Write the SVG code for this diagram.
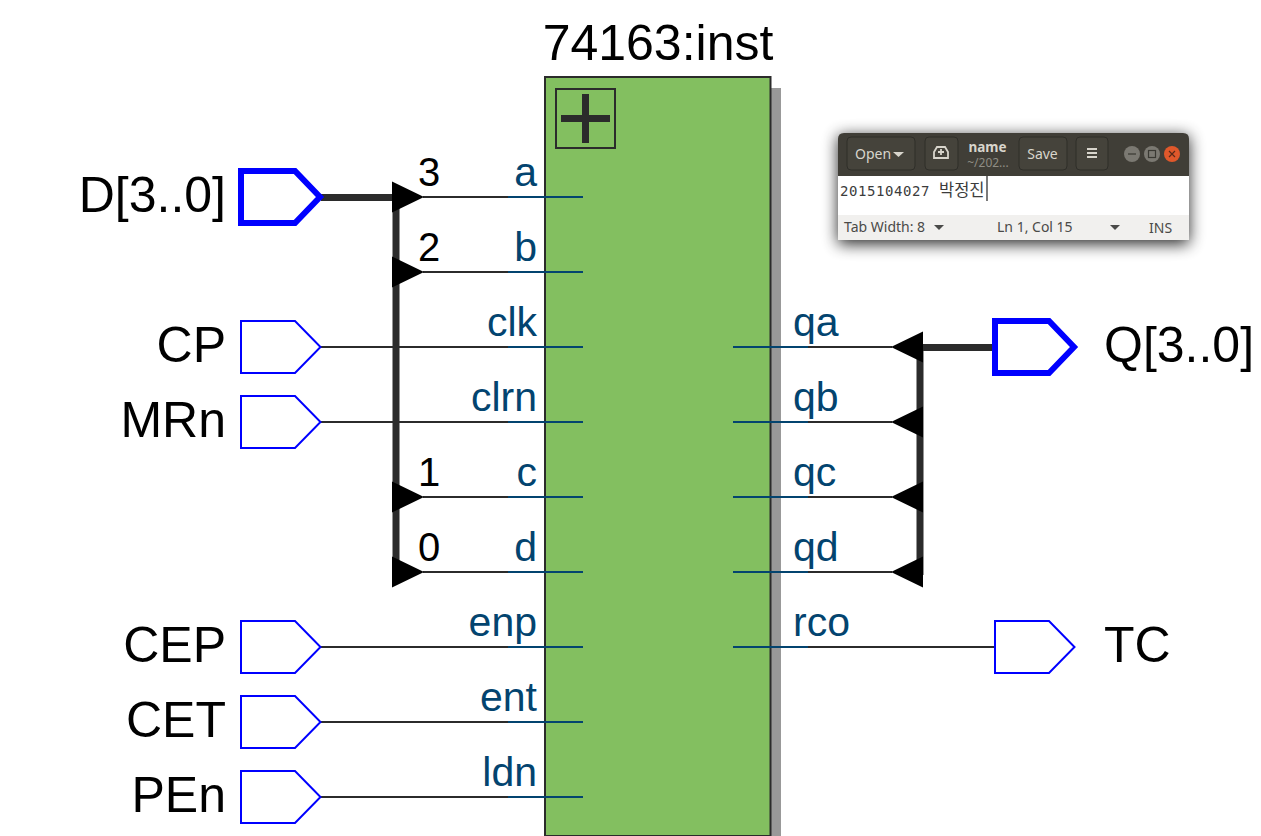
<svg xmlns="http://www.w3.org/2000/svg" width="1261" height="836" viewBox="0 0 1261 836">
<style>
text{font-family:"Liberation Sans",Arial,sans-serif}
.big{font-size:50px;fill:#000}
.end{text-anchor:end}
.num{font-size:40px;fill:#000}
.pin{font-size:41px;fill:#03446f}
.port{fill:#fff;stroke:#0000ff;stroke-width:2;stroke-linejoin:miter}
.bport{fill:#fff;stroke:#0000ff;stroke-width:6;stroke-linejoin:miter}
.wire{stroke:#2b2b2b;stroke-width:2;fill:none}
.pinw{stroke:#03446f;stroke-width:2;fill:none}
.bus{stroke:#2b2b2b;stroke-width:7;fill:none}
.ui{font-family:"Noto Sans",sans-serif;font-size:14px;fill:#d8d5cc}
.st{font-family:"Noto Sans",sans-serif;font-size:14px;fill:#4a4a48}
.btn{fill:#45433b;stroke:#2f2e29;stroke-width:1}
</style>
<defs>
<filter id="sh" x="-15%" y="-30%" width="130%" height="170%"><feGaussianBlur stdDeviation="8"/></filter>
<path id="tl" d="M392 -15.500L424 0L392 15.500Z" fill="#000"/>
<path id="tr" d="M923 -15.500L891 0L923 15.500Z" fill="#000"/>
</defs>
<rect width="1261" height="836" fill="#fff"/>

<g id="block">
<rect x="770" y="88" width="11" height="748" fill="#999"/>
<rect x="545" y="77" width="225.500" height="759" fill="#83bf60" stroke="#2b2b2b" stroke-width="2"/>
<rect x="556" y="89" width="59" height="59" fill="none" stroke="#2b2b2b" stroke-width="2"/>
<path d="M561 118.500H610M585.500 94V143" stroke="#2b2b2b" stroke-width="7" fill="none"/>
<text x="658" y="60" class="big" text-anchor="middle">74163:inst</text>
</g>

<g id="connectors">
<path class="wire" d="M423 197H508M423 272H508M321 347H508M321 422H508M423 497H508M423 572H508M321 647H508M321 722H508M321 797H508"/>
<path class="pinw" d="M508 197H583M508 272H583M508 347H583M508 422H583M508 497H583M508 572H583M508 647H583M508 722H583M508 797H583"/>
<path class="wire" d="M808 347H892M808 422H892M808 497H892M808 572H892M808 647H995"/>
<path class="pinw" d="M733 347H808M733 422H808M733 497H808M733 572H808M733 647H808"/>
<path class="bus" d="M321 197.500H394M396 197V575"/>
<path class="bus" d="M995 347.500H921M920 347V575"/>
<use href="#tl" y="197"/><use href="#tl" y="272"/><use href="#tl" y="497"/><use href="#tl" y="572"/>
<use href="#tr" y="347"/><use href="#tr" y="422"/><use href="#tr" y="497"/><use href="#tr" y="572"/>
<text x="418" y="186" class="num">3</text>
<text x="418" y="261" class="num">2</text>
<text x="418" y="486" class="num">1</text>
<text x="418" y="561" class="num">0</text>
</g>

<g id="pins">
<text x="537" y="186" class="pin end">a</text>
<text x="537" y="261" class="pin end">b</text>
<text x="537" y="336" class="pin end">clk</text>
<text x="537" y="411" class="pin end">clrn</text>
<text x="537" y="486" class="pin end">c</text>
<text x="537" y="561" class="pin end">d</text>
<text x="537" y="636" class="pin end">enp</text>
<text x="537" y="711" class="pin end">ent</text>
<text x="537" y="786" class="pin end">ldn</text>
<text x="793" y="336" class="pin">qa</text>
<text x="793" y="411" class="pin">qb</text>
<text x="793" y="486" class="pin">qc</text>
<text x="793" y="561" class="pin">qd</text>
<text x="793" y="636" class="pin">rco</text>
</g>

<g id="port-D"><path class="bport" d="M241 171H295L320 197L295 223H241Z"/><text x="226" y="212" class="big end">D[3..0]</text></g>
<g id="port-CP"><path class="port" d="M241 321H295L320.500 347L295 373H241Z"/><text x="226" y="362" class="big end">CP</text></g>
<g id="port-MRn"><path class="port" d="M241 396H295L320.500 422L295 448H241Z"/><text x="226" y="437" class="big end">MRn</text></g>
<g id="port-CEP"><path class="port" d="M241 621H295L320.500 647L295 673H241Z"/><text x="226" y="662" class="big end">CEP</text></g>
<g id="port-CET"><path class="port" d="M241 696H295L320.500 722L295 748H241Z"/><text x="226" y="737" class="big end">CET</text></g>
<g id="port-PEn"><path class="port" d="M241 771H295L320.500 797L295 823H241Z"/><text x="226" y="812" class="big end">PEn</text></g>
<g id="port-Q"><path class="bport" d="M995 321H1049L1074 347L1049 373H995Z"/><text x="1104" y="362" class="big">Q[3..0]</text></g>
<g id="port-TC"><path class="port" d="M995 621H1049L1074.500 647L1049 673H995Z"/><text x="1104" y="662" class="big">TC</text></g>

<g id="window">
<rect x="838" y="136" width="351" height="108" fill="#000" opacity="0.85" filter="url(#sh)"/>
<path d="M838 176V139Q838 133 844 133H1183Q1189 133 1189 139V176Z" fill="#403e37"/>
<rect x="838" y="176" width="351" height="39" fill="#fff"/>
<rect x="838" y="215" width="351" height="25" fill="#f1f0ee"/>
<rect class="btn" x="847" y="137" width="68" height="33" rx="4"/>
<text x="855" y="159" class="ui">Open</text>
<path d="M893 152H904L898.500 157Z" fill="#d8d5cc"/>
<rect class="btn" x="925" y="137" width="33" height="33" rx="4"/>
<path d="M934 158V152L937 147H945L948 152V158Z M938 152H944M941 149V155" fill="none" stroke="#d8d5cc" stroke-width="1.800"/>
<text x="987.500" y="152" text-anchor="middle" style="font-family:'Noto Sans',sans-serif;font-size:13.500px;font-weight:700;fill:#d8d5cc">name</text>
<text x="988" y="167" text-anchor="middle" style="font-family:'Noto Sans',sans-serif;font-size:12px;fill:#8f8d84">~/202...</text>
<rect class="btn" x="1019" y="137" width="48" height="33" rx="4"/>
<text x="1042.500" y="159" text-anchor="middle" class="ui">Save</text>
<rect class="btn" x="1076" y="137" width="32" height="33" rx="4"/>
<path d="M1087 149H1097M1087 153H1097M1087 157H1097" stroke="#d8d5cc" stroke-width="1.800"/>
<circle cx="1132" cy="154" r="8" fill="#7b7972"/>
<path d="M1128 154H1136" stroke="#3a3933" stroke-width="1.200"/>
<circle cx="1152" cy="154" r="8" fill="#7b7972"/>
<rect x="1148.500" y="150.500" width="7" height="7" fill="none" stroke="#3a3933" stroke-width="1.200"/>
<circle cx="1172" cy="154" r="8" fill="#e0582b"/>
<path d="M1169 151L1175 157M1175 151L1169 157" stroke="#5a2a18" stroke-width="1.200"/>
<text x="840" y="196" style="font-family:'DejaVu Sans Mono',monospace;font-size:14px;letter-spacing:0.570px;fill:#3c3c3c">2015104027</text>
<text x="939" y="195.500" style="font-family:'Noto Sans CJK KR',sans-serif;font-size:16.500px;fill:#3c3c3c">박정진</text>
<path d="M987 176V201" stroke="#222" stroke-width="1.200"/>
<text x="844" y="232" class="st">Tab Width: 8</text>
<path d="M934 225H944L939 230Z" fill="#4a4a48"/>
<text x="997" y="232" class="st">Ln 1, Col 15</text>
<path d="M1110 225H1120L1115 230Z" fill="#4a4a48"/>
<text x="1149" y="233" class="st">INS</text>
</g>
</svg>
